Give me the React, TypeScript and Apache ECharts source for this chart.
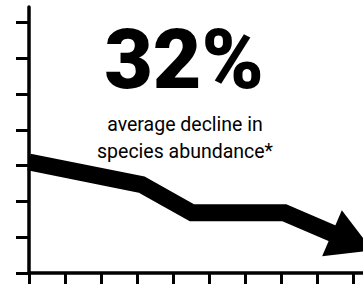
import React, { useEffect, useRef } from "react";
import * as echarts from "echarts";

const xValues = [0, 3.13, 4.53, 7.1, 8.98];
const yValues = [3.1, 2.47, 1.68, 1.68, 0.87];
const xTicks = [0, 1, 2, 3, 4, 5, 6, 7, 8, 9];
const yTicks = [0, 1, 2, 3, 4, 5, 6, 7];
const headline = "32%";
const subLines = ["average decline in", "species abundance*"];

export default function App() {
  const ref = useRef<HTMLDivElement>(null);
  useEffect(() => {
    if (!ref.current) return;
    const chart = echarts.init(ref.current, undefined, { renderer: "svg" });
    const buildData = (rot: number) =>
      xValues.map((x, i) =>
        i === xValues.length - 1
          ? { value: [x, yValues[i]], symbol: "triangle", symbolSize: [50, 44], symbolRotate: rot }
          : { value: [x, yValues[i]], symbol: "none" }
      );
    const option: any = {
      animation: false,
      grid: { left: 29, right: 0, top: 7, bottom: 11 },
      xAxis: {
        type: "value",
        min: 0,
        max: 9.28,
        splitLine: { show: false },
        axisLabel: { show: false },
        axisLine: { show: true, lineStyle: { color: "#000", width: 3.5 } },
        axisTick: { show: true, customValues: xTicks, length: 13, inside: false, lineStyle: { color: "#000", width: 3 } },
      },
      yAxis: {
        type: "value",
        min: 0,
        max: 7.43,
        splitLine: { show: false },
        axisLabel: { show: false },
        axisLine: { show: true, lineStyle: { color: "#000", width: 3.5 } },
        axisTick: { show: true, customValues: yTicks, length: 13, inside: false, lineStyle: { color: "#000", width: 3 } },
      },
      graphic: [
        {
          type: "text",
          x: 184,
          y: 59,
          style: {
            text: headline,
            align: "center",
            verticalAlign: "middle",
            fontFamily: "Roboto",
            fontWeight: 900,
            fontSize: 84,
            fill: "#000",
          },
        },
        {
          type: "text",
          x: 185,
          y: 138,
          style: {
            text: subLines.join("\n"),
            align: "center",
            verticalAlign: "middle",
            fontFamily: "Roboto",
            fontSize: 19.5,
            lineHeight: 27,
            fill: "#000",
          },
        },
      ],
      series: [
        {
          type: "line",
          data: buildData(0),
          symbol: "none",
          lineStyle: { color: "#000", width: 17, join: "miter", cap: "butt" },
          itemStyle: { color: "#000" },
          clip: true,
          z: 3,
        },
      ],
    };
    chart.setOption(option);
    const n = xValues.length;
    const a = chart.convertToPixel({ gridIndex: 0 }, [xValues[n - 2], yValues[n - 2]]) as number[];
    const b = chart.convertToPixel({ gridIndex: 0 }, [xValues[n - 1], yValues[n - 1]]) as number[];
    const ang = (Math.atan2(b[1] - a[1], b[0] - a[0]) * 180) / Math.PI;
    chart.setOption({ series: [{ data: buildData(-(90 + ang)) }] });
    return () => chart.dispose();
  }, []);
  return (
    <div
      ref={ref}
      style={{ position: "fixed", left: 0, top: 0, width: 363, height: 284, background: "#fff" }}
    />
  );
}
